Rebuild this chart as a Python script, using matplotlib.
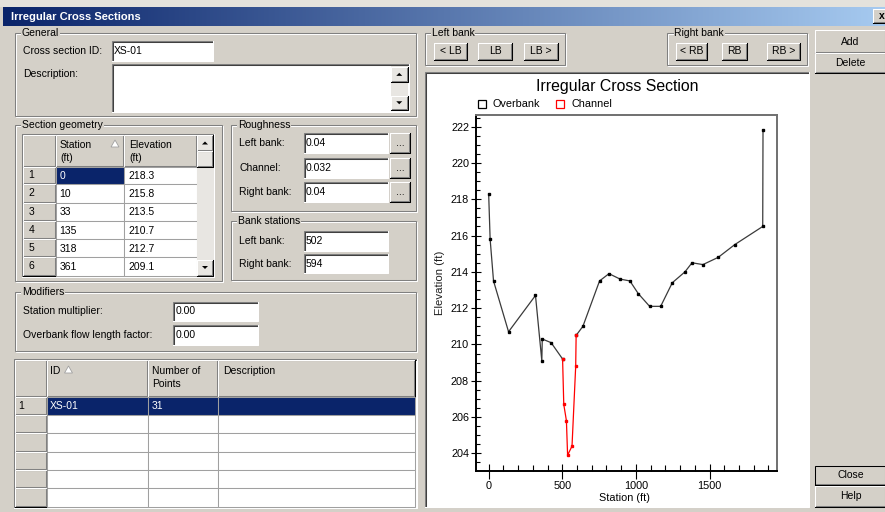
import numpy as np
import matplotlib.pyplot as plt
from matplotlib.patches import Rectangle, Polygon
from matplotlib.lines import Line2D
from matplotlib.colors import LinearSegmentedColormap
from matplotlib.ticker import MultipleLocator, FormatStrFormatter

plt.rcParams['font.family'] = ['Liberation Sans', 'DejaVu Sans']

# cross section data (station ft, elevation ft)
station = [0, 10, 33, 135, 318, 361, 364, 424, 502, 510, 528, 536, 566, 591, 594,
           640, 753, 817, 893, 959, 1016, 1093, 1168, 1247, 1333, 1381, 1455,
           1559, 1671, 1861, 1863]
elevation = [218.3, 215.8, 213.5, 210.7, 212.7, 209.1, 210.3, 210.1, 209.2, 206.7,
             205.8, 203.9, 204.4, 208.8, 210.5, 211.0, 213.5, 213.9, 213.6, 213.5,
             212.8, 212.1, 212.1, 213.4, 214.0, 214.5, 214.4, 214.8, 215.5, 216.5,
             221.8]
left_bank = 502
right_bank = 594
roughness = ["0.04", "0.032", "0.04"]
roughness_labels = ["Left bank:", "Channel:", "Right bank:"]
xs_id = "XS-01"
station_mult = "0.00"
overbank_factor = "0.00"

FACE = '#D4D0C8'
DARK = '#808080'
NAVY = '#0A246A'
FS = 7.5

fig = plt.figure(figsize=(8.85, 5.12), dpi=100, facecolor=FACE)
bg = fig.add_axes([0, 0, 1, 1])
bg.axis('off')


def box(x0, y0, x1, y1, fc, ec='none', lw=0.0, z=1):
    bg.add_patch(Rectangle((x0, y0), x1 - x0, y1 - y0, facecolor=fc,
                           edgecolor=ec, linewidth=lw, zorder=z))


def seg(xs, ys, c, z=2):
    bg.plot(xs, ys, color=c, lw=0.75, solid_capstyle='projecting', zorder=z)


def text(x, y, s, ha='left', **kw):
    kw.setdefault('fontsize', FS)
    kw.setdefault('zorder', 5)
    bg.text(x, y, s, ha=ha, va='center', **kw)


def sunken(x0, y0, x1, y1, fc='white'):
    box(x0, y0, x1, y1, fc)
    seg([x0, x0, x1], [y1, y0, y0], DARK)
    seg([x0 + 1, x0 + 1, x1 - 1], [y1 - 1, y0 + 1, y0 + 1], '#404040')
    seg([x0, x1, x1], [y1, y1, y0], 'white')


def raised(x0, y0, x1, y1, label=None, default=False):
    box(x0, y0, x1, y1, FACE)
    seg([x0, x0, x1], [y1, y0, y0], 'white')
    seg([x0, x1, x1], [y1, y1, y0], 'black')
    seg([x0 + 1, x1 - 1, x1 - 1], [y1 - 1, y1 - 1, y0 + 1], DARK)
    if default:
        bg.add_patch(Rectangle((x0, y0), x1 - x0, y1 - y0, fill=False,
                               ec='black', lw=0.75, zorder=3))
    if label:
        text((x0 + x1) / 2, (y0 + y1) / 2, label, ha='center')


def group(x0, y0, x1, y1, label):
    bg.add_patch(Rectangle((x0 + 1, y0 + 1), x1 - x0 - 1, y1 - y0 - 1,
                           fill=False, ec='white', lw=0.75, zorder=2))
    bg.add_patch(Rectangle((x0, y0), x1 - x0 - 1, y1 - y0 - 1,
                           fill=False, ec=DARK, lw=0.75, zorder=2))
    bg.text(x0 + 7, y0, label, va='center', fontsize=FS, zorder=5,
            bbox=dict(fc=FACE, ec='none', pad=0.5))


def arrow(x0, y0, x1, y1, up=True):
    raised(x0, y0, x1, y1)
    cx, cy = (x0 + x1) / 2, (y0 + y1) / 2
    d = -1 if up else 1
    bg.add_patch(Polygon([[cx - 3, cy - 1.5 * d], [cx + 3, cy - 1.5 * d],
                          [cx, cy + 1.5 * d]], closed=True, fc='black',
                         ec='none', zorder=4))


def sort_mark(x, y):
    bg.add_patch(Polygon([[x - 4, y + 3], [x + 4, y + 3], [x, y - 4]],
                         closed=True, fc='white', ec='#A0A0A0', lw=0.6, zorder=4))


# window frame and title bar
box(0, 0, 885, 7, '#E4E2DC')
grad = np.linspace(0, 1, 512).reshape(1, -1)
cmap = LinearSegmentedColormap.from_list('tb', ['#0A246A', '#A6CAF0'])
bg.imshow(grad, extent=(3, 885, 26, 7), aspect='auto', cmap=cmap, zorder=1,
          interpolation='bilinear')
text(11, 16.5, "Irregular Cross Sections", color='white', fontweight='bold',
     fontsize=8)
raised(873, 9, 888, 23)
text(879, 16, "x", fontsize=7.5, fontweight='bold')

# General
group(15, 33, 417, 117, "General")
text(22.7, 50.5, "Cross section ID:")
sunken(111.7, 40.7, 213.3, 60.7)
text(113.5, 50.5, xs_id)
text(22.7, 74, "Description:")
sunken(111.7, 64.3, 409.3, 111.7)
box(390.5, 66, 408, 110, '#E8E6E2', z=2)
arrow(390.5, 67, 408, 81.7, up=True)
arrow(390.5, 95.5, 408, 110, up=False)

# Section geometry table
group(15, 125, 223, 282, "Section geometry")
cols = [23.3, 55.7, 124.3, 196.7]
rows = [135, 166.7, 184.3, 202.7, 221, 239, 257.3, 275.5]
sunken(22.3, 134, 214.3, 276.5, fc='#E8E6E2')
for i in range(3):
    raised(cols[i], rows[0], cols[i + 1], rows[1])
text(60, 145, "Station")
text(60, 158, "(ft)")
sort_mark(115, 144)
text(129.3, 145, "Elevation")
text(129.3, 158, "(ft)")
for r in range(6):
    y0, y1 = rows[r + 1], rows[r + 2]
    raised(cols[0], y0, cols[1], y1)
    text(28.3, (y0 + y1) / 2, str(r + 1))
    for c in (1, 2):
        fc = NAVY if (r == 0 and c == 1) else 'white'
        box(cols[c], y0, cols[c + 1], y1, fc, ec='#A0A0A0', lw=0.75, z=2)
    col = 'white' if r == 0 else 'black'
    text(cols[1] + 4, (y0 + y1) / 2 + 0.5, f"{station[r]:g}", color=col)
    text(cols[2] + 4, (y0 + y1) / 2 + 0.5, f"{elevation[r]:.1f}")
box(196.7, 135, 213.3, 275.5, '#E8E6E2', z=2)
arrow(196.7, 135, 213.3, 151, up=True)
raised(196.7, 151, 213.3, 166.7)
arrow(196.7, 259.5, 213.3, 275.5, up=False)

# Roughness
group(231, 125, 417, 212, "Roughness")
rough_y = [(133.3, 153.3), (157.7, 177.7), (181.7, 201.7)]
for lab, val, (y0, y1) in zip(roughness_labels, roughness, rough_y):
    text(239.3, (y0 + y1) / 2, lab)
    sunken(304, y0, 388, y1)
    text(306, (y0 + y1) / 2, val)
    raised(390, y0, 410, y1, "...")

# Bank stations
group(231, 221, 417, 281, "Bank stations")
text(239.3, 241, "Left bank:")
sunken(304, 231, 388, 251)
text(306, 241, f"{left_bank}")
text(239.3, 264, "Right bank:")
sunken(304, 254.3, 388, 273.3)
text(306, 264, f"{right_bank}")

# Modifiers
group(15, 291.7, 417, 352, "Modifiers")
text(22.7, 311.3, "Station multiplier:")
sunken(173.3, 301.7, 258.3, 320.7)
text(175.5, 311.3, station_mult)
text(22.7, 335, "Overbank flow length factor:")
sunken(173.3, 325, 258.3, 345)
text(175.5, 335, overbank_factor)

# cross section list
tcols = [15, 46.7, 148.3, 218.3, 415]
trows = [360, 396.7, 415, 433.3, 451.7, 470, 488.3, 507.3]
sunken(14, 359, 416.5, 508, fc='white')
for i in range(4):
    raised(tcols[i], trows[0], tcols[i + 1], trows[1])
text(50, 370.7, "ID")
sort_mark(68.5, 370)
text(151.7, 370.7, "Number of")
text(151.7, 384, "Points")
text(222.7, 370.7, "Description")
for r in range(6):
    y0, y1 = trows[r + 1], trows[r + 2]
    raised(tcols[0], y0, tcols[1], y1)
    for c in (1, 2, 3):
        fc = NAVY if r == 0 else 'white'
        box(tcols[c], y0, tcols[c + 1], y1, fc, ec='#A0A0A0', lw=0.75, z=2)
text(18.3, 405.8, "1")
text(50, 406.3, xs_id, color='white')
text(151.7, 406.3, str(len(station)), color='white')

# bank buttons
group(425, 33.3, 566, 66, "Left bank")
raised(434, 42.7, 467.3, 60, "< LB")
raised(478.3, 42.7, 512.3, 60, "LB")
raised(523.7, 42.7, 558.3, 60, "LB >")
group(667.3, 33.3, 808.3, 66, "Right bank")
raised(676, 42.7, 706.7, 60, "< RB")
raised(721.7, 42.7, 746.7, 60, "RB")
raised(766.7, 42.7, 800, 60, "RB >")

raised(815, 30, 886, 53.3, "Add")
raised(815, 53.3, 886, 73.3, "Delete")
raised(815, 466, 886, 485, "Close", default=True)
raised(815, 486, 886, 506.7, "Help")

# chart panel
sunken(425, 71.7, 809, 507, fc='white')

bg.set_xlim(0, 885)
bg.set_ylim(512, 0)

# chart
ax = fig.add_axes([475.7 / 885, (512 - 471) / 512, 301.6 / 885, 356 / 512])
ax.set_facecolor('white')
i_lb = station.index(left_bank)
i_rb = station.index(right_bank)
ob_kw = dict(color='#3A3A3A', lw=0.9, marker='s', ms=2.1, mfc='black', mec='black')
ax.plot(station[:i_lb + 1], elevation[:i_lb + 1], **ob_kw)
ax.plot(station[i_rb:], elevation[i_rb:], **ob_kw)
ax.plot(station[i_lb:i_rb + 1], elevation[i_lb:i_rb + 1], color='#FF0000', lw=0.9,
        marker='s', ms=2.1, mfc='#FF0000', mec='#FF0000')

ax.set_xlim(-88, 1960)
ax.set_ylim(203.03, 222.64)
ax.xaxis.set_major_locator(MultipleLocator(500))
ax.xaxis.set_minor_locator(MultipleLocator(100))
ax.yaxis.set_major_locator(MultipleLocator(2))
ax.yaxis.set_minor_locator(MultipleLocator(0.5))
ax.yaxis.set_major_formatter(FormatStrFormatter('%d'))
ax.tick_params(axis='x', which='major', direction='inout', length=10.8, width=0.8,
               labelsize=7.8, pad=1.5)
ax.tick_params(axis='x', which='minor', direction='in', length=4.3, width=0.8)
ax.tick_params(axis='y', which='major', direction='inout', length=7.2, width=0.8,
               labelsize=7.8, pad=1.2)
ax.tick_params(axis='y', which='minor', direction='in', length=2.9, width=0.8)
for side in ('left', 'bottom'):
    ax.spines[side].set_color('black')
    ax.spines[side].set_linewidth(1.4)
for side in ('top', 'right'):
    ax.spines[side].set_color('#707070')
    ax.spines[side].set_linewidth(1.4)

ax.set_xlabel("Station (ft)", fontsize=7.8)
ax.xaxis.set_label_coords(0.493, -0.062)
ax.set_ylabel("Elevation (ft)", fontsize=8.2, color='#202020')
ax.yaxis.set_label_coords(-0.102, 0.53)
ax.set_title("Irregular Cross Section", fontsize=11.4, x=0.468, y=1.068, pad=0)

handles = [Line2D([], [], ls='none', marker='s', ms=5.8, mfc='white', mec='black',
                  mew=0.9),
           Line2D([], [], ls='none', marker='s', ms=5.8, mfc='white', mec='#FF0000',
                  mew=0.9)]
ax.legend(handles, ["Overbank", "Channel"], loc='center left',
          bbox_to_anchor=(0.0056, 1.030), ncol=2, frameon=False, fontsize=7.8,
          handlelength=0.8, handletextpad=0.64, columnspacing=1.4,
          borderpad=0, borderaxespad=0)

fig.savefig("out.png", dpi=100, facecolor=FACE)
